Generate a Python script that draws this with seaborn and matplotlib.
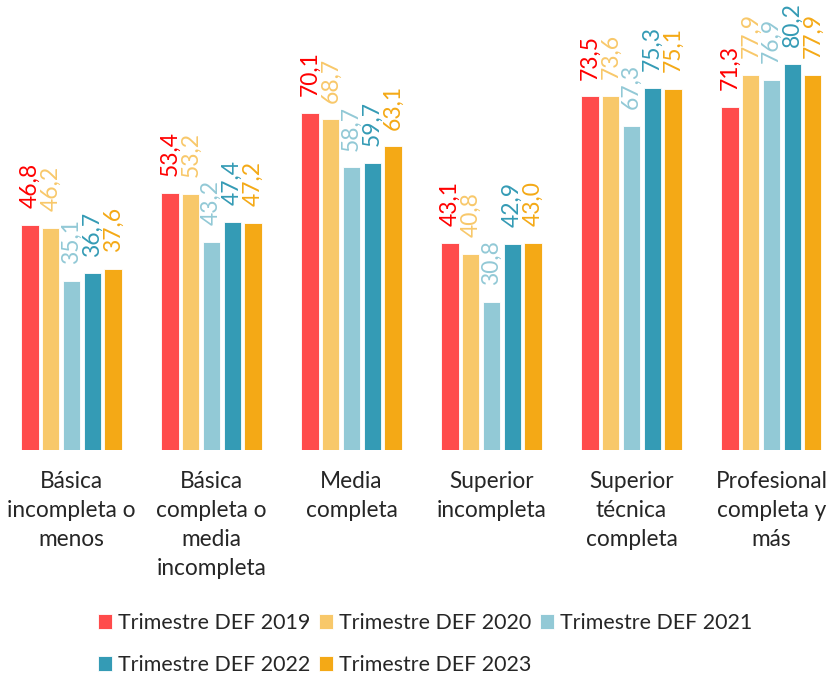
import matplotlib.pyplot as plt
import pandas as pd
import seaborn as sns

categorias = [
    "Básica\nincompleta o\nmenos",
    "Básica\ncompleta o\nmedia\nincompleta",
    "Media\ncompleta",
    "Superior\nincompleta",
    "Superior\ntécnica\ncompleta",
    "Profesional\ncompleta y\nmás",
]
series = [
    "Trimestre DEF 2019",
    "Trimestre DEF 2020",
    "Trimestre DEF 2021",
    "Trimestre DEF 2022",
    "Trimestre DEF 2023",
]
v2019 = [46.8, 53.4, 70.1, 43.1, 73.5, 71.3]
v2020 = [46.2, 53.2, 68.7, 40.8, 73.6, 77.9]
v2021 = [35.1, 43.2, 58.7, 30.8, 67.3, 76.9]
v2022 = [36.7, 47.4, 59.7, 42.9, 75.3, 80.2]
v2023 = [37.6, 47.2, 63.1, 43.0, 75.1, 77.9]

colores_barras = ["#FF4B4B", "#F8C86A", "#92C9D6", "#349BB5", "#F4A916"]
colores_etiquetas = ["#FF0000", "#F8C86A", "#92C9D6", "#349BB5", "#F4A916"]

sns.set_style("white")
plt.rcParams["font.family"] = ["Lato", "DejaVu Sans"]

filas = []
for serie, valores in zip(series, [v2019, v2020, v2021, v2022, v2023]):
    for cat, v in zip(categorias, valores):
        filas.append({"categoria": cat, "serie": serie, "valor": v})
df = pd.DataFrame(filas)

fig = plt.figure(figsize=(8.29, 6.74), dpi=100)
ax = fig.add_axes([0, 0.3323, 1, 0.6677])
sns.barplot(
    data=df, x="categoria", y="valor", hue="serie",
    palette=colores_barras, saturation=1, width=0.74, gap=0.17,
    edgecolor="white", linewidth=0.6, ax=ax,
)

for cont, col in zip(ax.containers, colores_etiquetas):
    ax.bar_label(
        cont, fmt=lambda v: f"{v:.1f}".replace(".", ","),
        rotation=90, padding=12, color=col, fontsize=16.5,
    )

ax.set_xlim(-0.511, 5.411)
ax.set_ylim(0, 93.5)
ax.set_xlabel("")
ax.set_ylabel("")
ax.set_yticks([])
ax.tick_params(axis="x", length=0, pad=15, labelsize=16.3)
for lbl in ax.get_xticklabels():
    lbl.set_linespacing(1.48)
sns.despine(ax=ax, left=True, bottom=True)

handles, labels = ax.get_legend_handles_labels()
ax.get_legend().remove()
# orden por filas: 2019 2020 2021 / 2022 2023
orden = [0, 3, 1, 4, 2]
fig.legend(
    [handles[i] for i in orden], [labels[i] for i in orden],
    ncol=3, loc="lower center", bbox_to_anchor=(0.513, -0.019),
    frameon=False, fontsize=15.4, handlelength=0.65, handleheight=0.65,
    handletextpad=0.28, columnspacing=0.42, labelspacing=1.03,
    borderpad=0.05,
)

fig.savefig("out.png", dpi=100)
